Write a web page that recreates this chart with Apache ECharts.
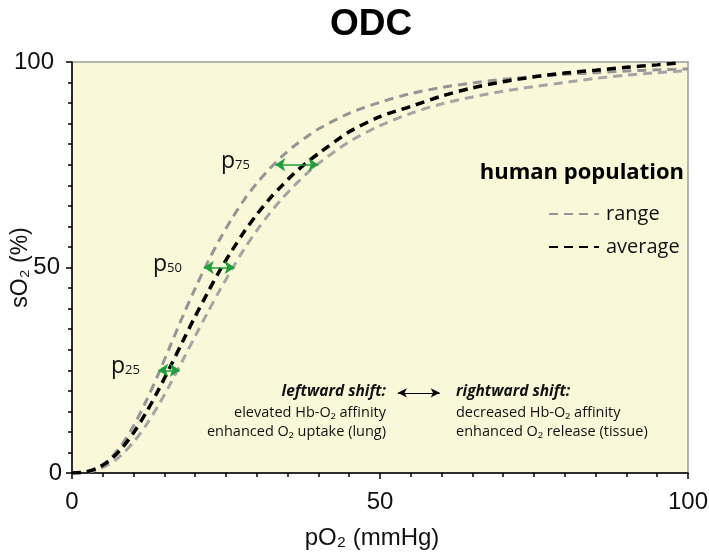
<!DOCTYPE html>
<html>
<head>
<meta charset="utf-8">
<script src="https://cdn.jsdelivr.net/npm/echarts@6/dist/echarts.min.js"></script>
<style>
html,body{margin:0;padding:0;background:#fff;}
#chart{width:709px;height:553px;}
</style>
</head>
<body>
<div id="chart"></div>
<script>
// pO2 (mmHg) sample points
const pO2 = [0,2,4,6,8,10,12,14,16,18,20,22,24,26,28,30,32,34,36,38,40,45,50,55,60,65,70,75,80,85,90,95,100];
// range: left-shifted curve (upper)
const rangeUpper = [0,0.18,1.13,3.25,6.71,11.5,17.4,24.0,31.1,38.2,44.9,51.2,56.9,62.0,66.6,70.5,73.9,76.9,79.5,81.7,83.7,87.5,90.2,92.3,93.8,94.9,95.8,96.4,97.0,97.4,97.8,98.1,98.3];
// range: right-shifted curve (lower)
const rangeLower = [0,0.12,0.74,2.11,4.36,7.56,11.6,16.4,21.8,27.5,33.3,39.0,44.5,49.7,54.6,59.0,63.0,66.6,69.8,72.7,75.3,80.6,84.5,87.5,89.8,91.5,92.9,94.0,95.0,96.0,96.8,97.4,97.9];
// average curve
const avgX = [0,2,4,6,8,10,12,14,16,18,20,22,24,26,28,30,32,34,36,38,40,45,50,55,60,65,70,75,80,85,90,95,98];
const average = [0,0.19,1.09,2.95,5.86,9.8,14.6,20.1,26.0,32.1,38.1,43.8,49.3,54.2,58.8,62.9,66.6,69.8,72.8,75.4,77.7,83.0,86.7,89.2,91.7,93.7,95.2,96.4,97.3,98.0,98.7,99.3,99.7];
// shift arrows at p25, p50, p75
const arrowLevels = [25, 50, 75];
const arrowLeft = [14.0, 21.4, 33.0];
const arrowRight = [17.5, 26.4, 40.0];
const pLabels = ['25', '50', '75'];
const xTicks = [0, 50, 100];
const yTicks = [0, 50, 100];

const zip = (xs, ys) => xs.map((x, i) => [x, ys[i]]);

const chart = echarts.init(document.getElementById('chart'));
const axisFont = 'Liberation Sans, Arial, sans-serif';
const annFont = 'Open Sans, Noto Sans, sans-serif';

const greenArrows = arrowLevels.map((lv, i) => [
  {coord: [arrowLeft[i], lv]},
  {coord: [arrowRight[i], lv]}
]);

const baseLabelStyle = {fontFamily: axisFont, fontSize: 24, color: '#111'};

const majorAxis = (name, gap, extra) => Object.assign({
  type: 'value', min: 0, max: 100, interval: 50,
  name: name, nameLocation: 'middle', nameGap: gap, nameMoveOverlap: false,
  axisLine: {show: true, onZero: false, lineStyle: {color: '#000', width: 1.5}},
  axisTick: {show: true, length: 6, lineStyle: {color: '#000', width: 1.5}},
  splitLine: {show: false}
}, extra || {});
const minorAxis = (extra) => Object.assign({
  type: 'value', min: 0, max: 100, interval: 5,
  axisLine: {show: false, onZero: false},
  axisTick: {show: true, length: 4, lineStyle: {color: '#000', width: 1.5}},
  axisLabel: {show: false},
  splitLine: {show: false}
}, extra || {});

const pText = (sub) => ({
  rich: {
    p: {fontFamily: annFont, fontSize: 23, fill: '#111'},
    s: {fontFamily: annFont, fontSize: 13, fill: '#111', padding: [7,0,0,0]}
  },
  text: '{p|p}{s|' + sub + '}'
});

const option = {
  animation: false,
  backgroundColor: '#ffffff',
  grid: {
    left: 72, right: 21, top: 62, bottom: 80,
    outerBoundsMode: 'none', containLabel: false,
    show: true, backgroundColor: '#fbf8d9', borderColor: '#9a9a9a', borderWidth: 1.5
  },
  legend: {
    orient: 'vertical', left: 543, top: 199,
    itemWidth: 50, itemHeight: 14, itemGap: 13,
    data: ['range', 'average'],
    itemStyle: {opacity: 0},
    textStyle: {fontFamily: annFont, fontSize: 20, color: '#111', padding: [0,0,0,2]}
  },
  xAxis: [
    majorAxis('pO₂ (mmHg)', 53, {
      position: 'bottom',
      nameTextStyle: {fontFamily: axisFont, fontSize: 24, color: '#111', padding: [0, 16, 0, 0]},
      axisLabel: Object.assign({}, baseLabelStyle, {margin: 17,
        formatter: v => xTicks.includes(v) ? String(v) : ''})
    }),
    minorAxis({position: 'bottom'})
  ],
  yAxis: [
    majorAxis('sO₂ (%)', 40, {
      position: 'left', nameRotate: 90,
      nameTextStyle: {fontFamily: axisFont, fontSize: 23, color: '#111'},
      axisLabel: Object.assign({}, baseLabelStyle, {margin: 10,
        formatter: v => yTicks.includes(v) ? '{t' + v + '|' + v + '}' : '',
        rich: {
          t0: {fontFamily: axisFont, fontSize: 24, color: '#111'},
          t50: {fontFamily: axisFont, fontSize: 24, color: '#111', padding: [0, 2, 0, 0]},
          t100: {fontFamily: axisFont, fontSize: 24, color: '#111', padding: [0, 8, 0, 0]}
        }})
    }),
    minorAxis({position: 'left'})
  ],
  series: [
    {
      name: 'range', type: 'line', data: zip(pO2, rangeUpper),
      showSymbol: false, symbol: 'none', smooth: 0.3, z: 2,
      lineStyle: {color: '#959595', width: 3, type: [9, 6]},
      itemStyle: {color: '#959595'},
      markLine: {
        silent: true, symbol: ['arrow', 'arrow'], symbolSize: [10, 10],
        label: {show: false},
        lineStyle: {color: '#1f9e3c', width: 1.5, type: 'solid'},
        data: greenArrows, z: 5
      }
    },
    {
      name: 'range', type: 'line', data: zip(pO2, rangeLower),
      showSymbol: false, symbol: 'none', smooth: 0.3, z: 2,
      lineStyle: {color: '#a5a5a5', width: 3, type: [9, 6]},
      itemStyle: {color: '#a5a5a5'}
    },
    {
      name: 'average', type: 'line', data: zip(avgX, average),
      showSymbol: false, symbol: 'none', smooth: 0.3, z: 3,
      lineStyle: {color: '#000', width: 3.5, type: [9, 6]},
      itemStyle: {color: '#000'},
      markLine: {
        silent: true, symbol: ['arrow', 'arrow'], symbolSize: [7, 9],
        label: {show: false},
        lineStyle: {color: '#000', width: 1, type: 'solid'},
        data: [[{coord: [52.9, 19.5]}, {coord: [59.7, 19.5]}]]
      }
    }
  ],
  graphic: [
    {type: 'text', x: 371, y: 6,
      style: {text: 'ODC', align: 'center', fontFamily: 'Liberation Sans, Arial, sans-serif', fontWeight: 'bold', fontSize: 37, fill: '#000'}},
    {type: 'text', x: 684, y: 162, style: {text: 'human population', align: 'right', fontFamily: annFont, fontWeight: 'bold', fontSize: 22, fill: '#000'}},
    {type: 'text', left: 221, top: 150, style: pText(pLabels[2])},
    {type: 'text', left: 153, top: 253, style: pText(pLabels[1])},
    {type: 'text', left: 111, top: 355, style: pText(pLabels[0])},
    {type: 'text', x: 386, y: 384, style: {text: 'leftward shift:', align: 'right', fontFamily: annFont, fontWeight: 'bold', fontStyle: 'italic', fontSize: 15.5, fill: '#111'}},
    {type: 'text', x: 386, y: 403, style: {text: 'elevated Hb-O₂ affinity\nenhanced O₂ uptake (lung)', align: 'right', lineHeight: 19, fontFamily: annFont, fontSize: 14.5, fill: '#111'}},
    {type: 'text', x: 456, y: 384, style: {text: 'rightward shift:', align: 'left', fontFamily: annFont, fontWeight: 'bold', fontStyle: 'italic', fontSize: 15.5, fill: '#111'}},
    {type: 'text', x: 456, y: 403, style: {text: 'decreased Hb-O₂ affinity\nenhanced O₂ release (tissue)', align: 'left', lineHeight: 19, fontFamily: annFont, fontSize: 14.5, fill: '#111'}}
  ]
};
chart.setOption(option);
</script>
</body>
</html>
